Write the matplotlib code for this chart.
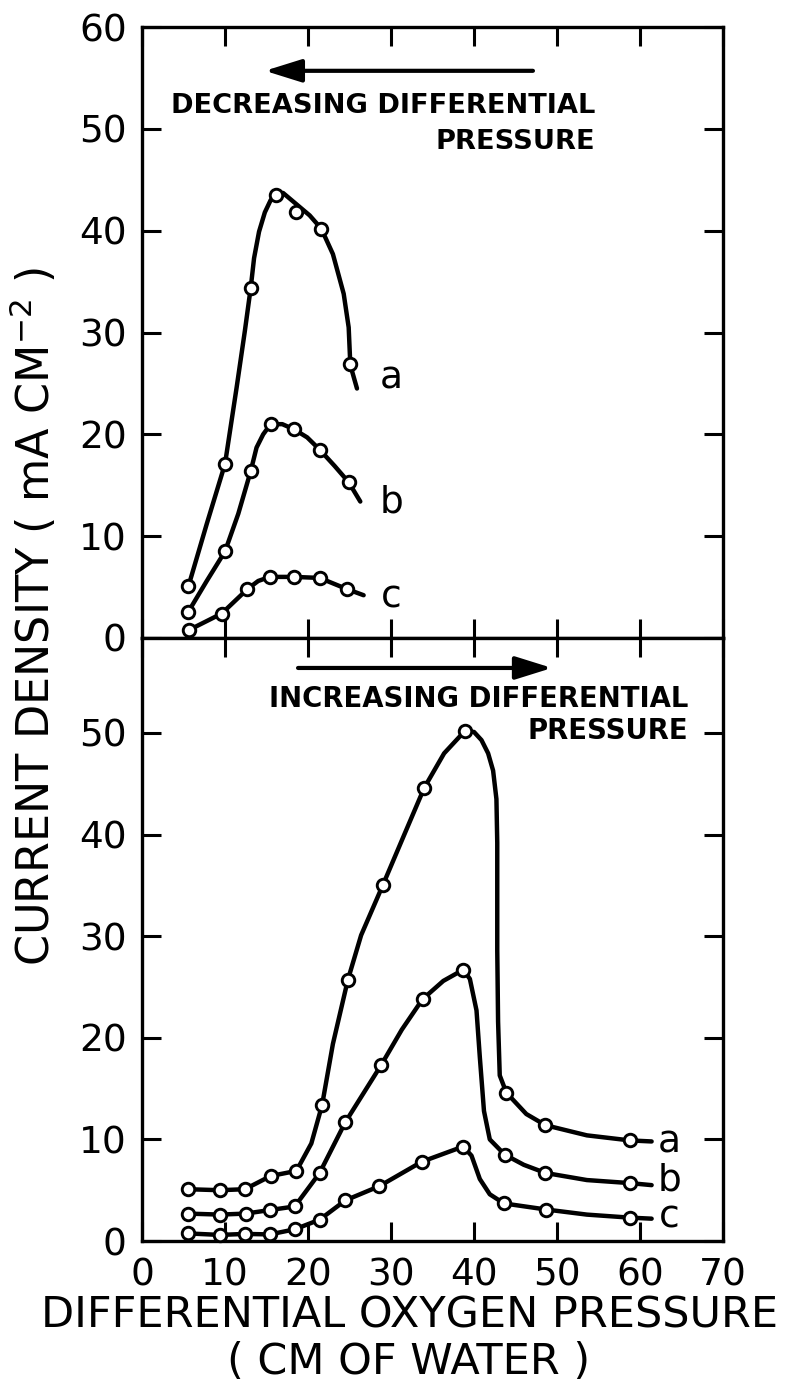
"""Current density vs differential oxygen pressure: decreasing and increasing sweeps."""

import matplotlib
matplotlib.use("Agg")
import matplotlib.pyplot as plt

plt.rcParams["font.family"] = ["DejaVu Sans"]

# ------------------------------
# Data
# ------------------------------

x_ticks = [0, 10, 20, 30, 40, 50, 60, 70]
top_yticks = [0, 10, 20, 30, 40, 50, 60]
bot_yticks = [0, 10, 20, 30, 40, 50]

# decreasing differential pressure (top panel), measured points
dec_a_x = [5.6, 10.0, 13.1, 16.2, 18.6, 21.6, 25.0]
dec_a_y = [5.1, 17.1, 34.4, 43.5, 41.8, 40.2, 26.9]
dec_b_x = [5.6, 10.0, 13.1, 15.5, 18.3, 21.4, 24.9]
dec_b_y = [2.6, 8.5, 16.4, 21.0, 20.5, 18.5, 15.3]
dec_c_x = [5.7, 9.6, 12.7, 15.4, 18.3, 21.4, 24.7]
dec_c_y = [0.8, 2.4, 4.8, 6.0, 6.0, 5.9, 4.8]

# drawn curves
dec_a_cx = [5.6, 7.8, 10.0, 11.4, 12.4, 13.1, 13.5, 14.1, 14.8, 15.5, 16.2, 17.0,
            18.6, 20.2, 21.6, 23.0, 24.3, 24.9, 25.1, 25.9]
dec_a_cy = [5.1, 11.2, 17.1, 24.6, 30.2, 34.4, 37.3, 39.9, 41.8, 43.0, 43.6, 43.7,
            42.6, 41.5, 40.2, 37.7, 33.8, 30.5, 26.8, 24.5]
dec_b_cx = [5.6, 7.8, 10.0, 11.6, 13.1, 13.8, 14.6, 15.5, 16.9, 18.3, 19.9,
            21.4, 23.2, 24.9, 26.3]
dec_b_cy = [2.6, 5.6, 8.5, 12.2, 16.4, 18.7, 20.0, 21.0, 21.0, 20.5, 19.7,
            18.5, 16.9, 15.3, 13.4]
dec_c_cx = [5.7, 9.6, 12.7, 14.0, 15.4, 18.3, 21.4, 24.7, 26.7]
dec_c_cy = [0.8, 2.4, 4.8, 5.6, 6.0, 6.0, 5.9, 4.8, 4.2]

# increasing differential pressure (bottom panel), measured points
inc_a_x = [5.5, 9.4, 12.4, 15.5, 18.6, 21.7, 24.8, 29.0, 34.0, 38.9, 43.9, 48.6, 58.8]
inc_a_y = [5.1, 5.0, 5.1, 6.4, 6.9, 13.4, 25.7, 35.0, 44.6, 50.2, 14.6, 11.4, 9.9]
inc_b_x = [5.5, 9.4, 12.5, 15.4, 18.4, 21.4, 24.5, 28.8, 33.8, 38.7, 43.7, 48.6, 58.8]
inc_b_y = [2.7, 2.6, 2.7, 3.05, 3.4, 6.7, 11.7, 17.3, 23.8, 26.7, 8.5, 6.7, 5.7]
inc_c_x = [5.5, 9.4, 12.4, 15.4, 18.4, 21.4, 24.5, 28.6, 33.7, 38.7, 43.6, 48.7, 58.8]
inc_c_y = [0.75, 0.6, 0.7, 0.65, 1.15, 2.1, 4.0, 5.4, 7.8, 9.3, 3.7, 3.1, 2.3]

inc_a_cx = [5.5, 9.4, 12.4, 15.5, 18.6, 20.4, 21.7, 23.0, 24.8, 26.4, 29.0,
            31.6, 34.0, 36.4, 38.9, 40.0, 40.9, 41.7, 42.3, 42.7, 42.8, 42.8,
            42.9, 43.1, 43.9, 46.3, 48.6, 53.6, 58.8, 61.4]
inc_a_cy = [5.1, 5.0, 5.1, 6.4, 6.9, 9.6, 13.4, 19.4, 25.7, 30.1, 35.0,
            40.0, 44.6, 48.0, 50.2, 50.1, 49.3, 48.0, 46.3, 43.5, 39.2, 28.6,
            21.6, 16.3, 14.6, 12.5, 11.4, 10.4, 9.9, 9.8]
inc_b_cx = [5.5, 9.4, 12.5, 15.4, 18.4, 21.4, 24.5, 28.8, 31.3, 33.8, 36.3,
            38.7, 39.5, 40.3, 40.7, 41.2, 41.9, 43.7, 46.0, 48.6, 53.6, 58.8, 61.4]
inc_b_cy = [2.7, 2.6, 2.7, 3.05, 3.4, 6.7, 11.7, 17.3, 20.8, 23.8, 25.6,
            26.7, 25.8, 22.7, 18.1, 12.8, 10.0, 8.5, 7.5, 6.7, 6.0, 5.7, 5.5]
inc_c_cx = [5.5, 9.4, 12.4, 15.4, 18.4, 21.4, 24.5, 28.6, 33.7, 38.7, 39.7,
            40.7, 41.9, 43.6, 48.7, 53.6, 58.8, 61.4]
inc_c_cy = [0.75, 0.6, 0.7, 0.65, 1.15, 2.1, 4.0, 5.4, 7.8, 9.3, 8.4,
            6.1, 4.6, 3.7, 3.1, 2.6, 2.3, 2.2]

# ------------------------------
# Figure
# ------------------------------

fig = plt.figure(figsize=(7.92, 13.93), dpi=100)
ax_top = fig.add_axes([0.1793, 0.5420, 0.7336, 0.4386])
ax_bot = fig.add_axes([0.1793, 0.1091, 0.7336, 0.4329])


def style(ax, ymax, yticks, show_x):
    ax.set_xlim(0, 70)
    ax.set_ylim(0, ymax)
    ax.set_xticks(x_ticks)
    ax.set_yticks(yticks)
    ax.tick_params(direction="in", length=14, width=2.2, top=True, right=True,
                   labelsize=27, pad=11, labelbottom=show_x)
    ax.tick_params(axis="x", pad=12)
    for s in ax.spines.values():
        s.set_linewidth(2.4)


def curve(ax, cx, cy, mx, my):
    ax.plot(cx, cy, color="k", lw=3.2, solid_capstyle="round",
            solid_joinstyle="round", zorder=2)
    ax.plot(mx, my, "o", ms=9, mfc="white", mec="k", mew=2.1, zorder=3,
            clip_on=False)


style(ax_top, 60, top_yticks, False)
style(ax_bot, 59.35, bot_yticks, True)

curve(ax_top, dec_a_cx, dec_a_cy, dec_a_x, dec_a_y)
curve(ax_top, dec_b_cx, dec_b_cy, dec_b_x, dec_b_y)
curve(ax_top, dec_c_cx, dec_c_cy, dec_c_x, dec_c_y)

curve(ax_bot, inc_a_cx, inc_a_cy, inc_a_x, inc_a_y)
curve(ax_bot, inc_b_cx, inc_b_cy, inc_b_x, inc_b_y)
curve(ax_bot, inc_c_cx, inc_c_cy, inc_c_x, inc_c_y)

# curve labels
for ax, xs, ys in [(ax_top, 30.0, [25.5, 13.3, 4.0]), (ax_bot, 63.5, [9.7, 6.0, 2.3])]:
    for lab, yy in zip("abc", ys):
        ax.text(xs, yy, lab, fontsize=27, ha="center", va="center")

# sweep-direction arrows and notes
arrow = dict(arrowstyle="-|>,head_length=0.8,head_width=0.25", lw=3,
             color="k", mutation_scale=28, shrinkA=0, shrinkB=0)
ax_top.annotate("", xy=(14.8, 55.7), xytext=(47.1, 55.7), arrowprops=arrow)
ax_top.text(54.6, 52.2, "DECREASING DIFFERENTIAL", ha="right", va="center",
            fontsize=19.6, fontweight="bold")
ax_top.text(54.6, 48.7, "PRESSURE", ha="right", va="center",
            fontsize=19.6, fontweight="bold")

ax_bot.annotate("", xy=(49.4, 56.4), xytext=(18.8, 56.4), arrowprops=arrow)
ax_bot.text(65.8, 53.3, "INCREASING DIFFERENTIAL", ha="right", va="center",
            fontsize=19.8, fontweight="bold")
ax_bot.text(65.8, 50.2, "PRESSURE", ha="right", va="center",
            fontsize=19.8, fontweight="bold")

# axis titles
fig.text(0.042, 1 - 617 / 1393, r"CURRENT DENSITY ( mA CM$^{-2}$ )",
         rotation=90, ha="center", va="center", fontsize=32)
fig.text(0.517, 1 - 1315 / 1393, "DIFFERENTIAL OXYGEN PRESSURE",
         ha="center", va="center", fontsize=31)
fig.text(0.516, 1 - 1362 / 1393, "( CM OF WATER )",
         ha="center", va="center", fontsize=31)

fig.savefig("out.png", dpi=100)
